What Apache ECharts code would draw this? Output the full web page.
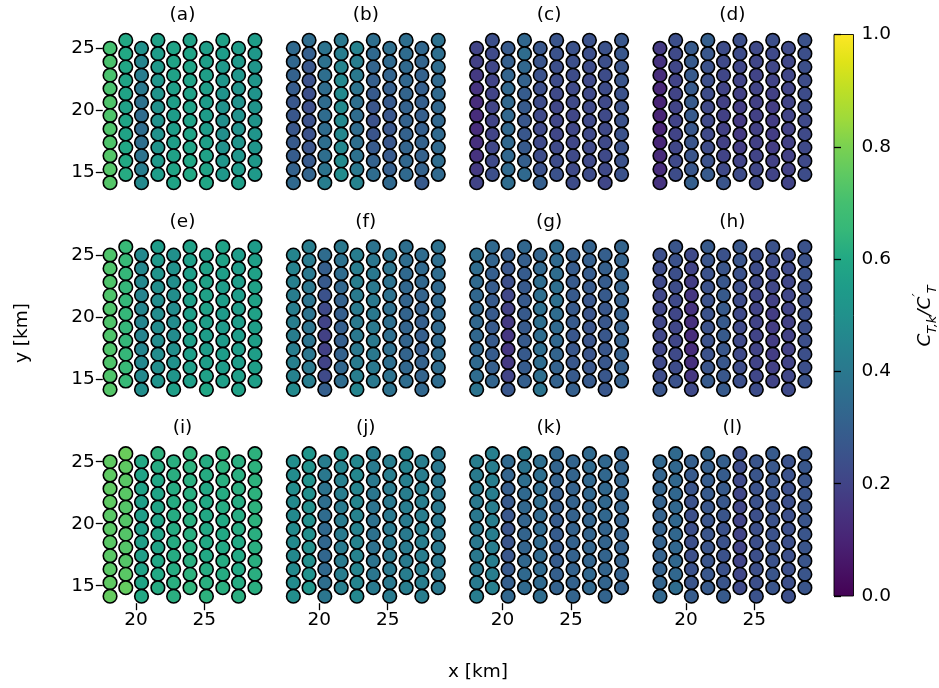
<!DOCTYPE html>
<html>
<head>
<meta charset="utf-8">
<script src="https://cdn.jsdelivr.net/npm/echarts@6/dist/echarts.min.js"></script>
<style>
html,body{margin:0;padding:0;background:#fff;}
#chart{width:939px;height:688px;}
</style>
</head>
<body>
<div id="chart"></div>
<script>
// ---- data ----
// turbine column x-positions [km]
const colX = [18.1, 19.25, 20.4, 21.6, 22.75, 23.95, 25.15, 26.35, 27.5, 28.7];
// row y-positions [km], top -> bottom, for even / odd columns
const evenColY = [25.0, 23.92, 22.83, 21.75, 20.66, 19.58, 18.50, 17.41, 16.33, 15.24, 14.16];
const oddColY = [25.65, 24.57, 23.49, 22.41, 21.33, 20.25, 19.16, 18.08, 17.0, 15.92, 14.84];
const panelLabels = ['(a)','(b)','(c)','(d)','(e)','(f)','(g)','(h)','(i)','(j)','(k)','(l)'];
const xTicks = [20, 25];
const yTicks = [15, 20, 25];
const cbarTicks = [0, 0.2, 0.4, 0.6, 0.8, 1.0];

// C_T,k / C'_T per panel: one inner list per column (left -> right), values top -> bottom
const panelA = [
 [0.70,0.71,0.71,0.71,0.72,0.72,0.72,0.72,0.73,0.73,0.73],
 [0.60,0.60,0.59,0.58,0.58,0.57,0.58,0.58,0.59,0.60,0.61],
 [0.50,0.45,0.42,0.40,0.37,0.35,0.35,0.36,0.38,0.42,0.47],
 [0.57,0.55,0.53,0.52,0.51,0.50,0.50,0.50,0.51,0.53,0.55],
 [0.58,0.58,0.57,0.56,0.56,0.55,0.55,0.56,0.57,0.58,0.58],
 [0.57,0.58,0.58,0.57,0.57,0.57,0.57,0.58,0.58,0.59,0.60],
 [0.56,0.56,0.56,0.56,0.55,0.55,0.55,0.56,0.57,0.58,0.59],
 [0.57,0.55,0.53,0.52,0.51,0.50,0.49,0.49,0.50,0.52,0.53],
 [0.55,0.53,0.52,0.51,0.50,0.50,0.50,0.51,0.52,0.54,0.56],
 [0.55,0.53,0.52,0.52,0.51,0.51,0.51,0.52,0.52,0.53,0.54]
];
const panelB = [
 [0.34,0.33,0.31,0.29,0.27,0.27,0.27,0.28,0.29,0.31,0.34],
 [0.35,0.30,0.27,0.25,0.24,0.24,0.25,0.25,0.26,0.28,0.32],
 [0.38,0.37,0.36,0.35,0.35,0.35,0.35,0.36,0.36,0.38,0.42],
 [0.40,0.42,0.45,0.46,0.47,0.47,0.46,0.46,0.46,0.47,0.48],
 [0.44,0.42,0.40,0.38,0.36,0.35,0.35,0.36,0.37,0.40,0.44],
 [0.36,0.34,0.32,0.30,0.28,0.26,0.25,0.26,0.28,0.31,0.35],
 [0.36,0.34,0.32,0.30,0.28,0.27,0.27,0.27,0.28,0.30,0.34],
 [0.36,0.35,0.34,0.33,0.32,0.31,0.31,0.31,0.32,0.33,0.34],
 [0.33,0.32,0.31,0.30,0.30,0.30,0.30,0.31,0.31,0.31,0.28],
 [0.37,0.36,0.35,0.34,0.34,0.33,0.33,0.34,0.34,0.35,0.34]
];
const panelC = [
 [0.20,0.19,0.17,0.15,0.13,0.13,0.13,0.14,0.15,0.17,0.20],
 [0.24,0.22,0.21,0.20,0.20,0.20,0.20,0.20,0.21,0.22,0.24],
 [0.28,0.30,0.32,0.33,0.33,0.33,0.33,0.33,0.33,0.34,0.35],
 [0.33,0.35,0.33,0.31,0.29,0.28,0.27,0.27,0.28,0.30,0.34],
 [0.27,0.26,0.25,0.24,0.23,0.22,0.22,0.22,0.23,0.25,0.30],
 [0.26,0.25,0.24,0.23,0.22,0.21,0.21,0.21,0.22,0.23,0.25],
 [0.25,0.24,0.23,0.22,0.22,0.21,0.21,0.21,0.22,0.22,0.23],
 [0.25,0.24,0.23,0.22,0.22,0.22,0.22,0.22,0.22,0.22,0.23],
 [0.25,0.24,0.23,0.23,0.22,0.22,0.22,0.22,0.22,0.22,0.21],
 [0.27,0.27,0.26,0.26,0.25,0.25,0.25,0.25,0.25,0.25,0.25]
];
const panelD = [
 [0.17,0.15,0.13,0.11,0.10,0.10,0.10,0.11,0.12,0.13,0.15],
 [0.24,0.22,0.21,0.20,0.20,0.20,0.20,0.20,0.21,0.22,0.23],
 [0.28,0.28,0.28,0.28,0.28,0.28,0.27,0.26,0.26,0.27,0.30],
 [0.30,0.27,0.25,0.24,0.23,0.22,0.22,0.22,0.23,0.25,0.28],
 [0.23,0.22,0.21,0.20,0.19,0.19,0.19,0.19,0.20,0.22,0.26],
 [0.24,0.23,0.21,0.20,0.19,0.18,0.17,0.17,0.18,0.20,0.23],
 [0.22,0.21,0.20,0.20,0.19,0.19,0.19,0.19,0.20,0.21,0.22],
 [0.24,0.22,0.21,0.20,0.19,0.18,0.18,0.18,0.18,0.19,0.20],
 [0.22,0.21,0.21,0.20,0.20,0.20,0.19,0.19,0.19,0.19,0.20],
 [0.25,0.24,0.24,0.23,0.23,0.23,0.22,0.22,0.22,0.22,0.23]
];
const panelE = [
 [0.72,0.72,0.72,0.72,0.72,0.72,0.72,0.72,0.72,0.72,0.73],
 [0.66,0.66,0.65,0.65,0.65,0.65,0.65,0.65,0.65,0.66,0.66],
 [0.47,0.46,0.46,0.45,0.45,0.45,0.45,0.45,0.46,0.47,0.49],
 [0.55,0.53,0.51,0.49,0.48,0.48,0.48,0.48,0.48,0.49,0.51],
 [0.50,0.50,0.49,0.49,0.48,0.48,0.48,0.49,0.50,0.52,0.56],
 [0.57,0.56,0.56,0.56,0.56,0.56,0.56,0.56,0.56,0.56,0.56],
 [0.56,0.57,0.57,0.57,0.57,0.56,0.55,0.55,0.56,0.57,0.59],
 [0.58,0.57,0.56,0.55,0.55,0.54,0.54,0.54,0.55,0.55,0.56],
 [0.55,0.55,0.55,0.55,0.55,0.55,0.55,0.55,0.55,0.56,0.57],
 [0.55,0.56,0.57,0.57,0.57,0.57,0.56,0.56,0.56,0.56,0.56]
];
const panelF = [
 [0.45,0.44,0.43,0.42,0.42,0.42,0.42,0.42,0.43,0.44,0.47],
 [0.42,0.41,0.40,0.39,0.38,0.38,0.38,0.38,0.39,0.40,0.42],
 [0.35,0.30,0.28,0.25,0.22,0.20,0.19,0.19,0.20,0.22,0.30],
 [0.40,0.37,0.35,0.33,0.31,0.30,0.30,0.30,0.31,0.33,0.35],
 [0.42,0.42,0.42,0.41,0.41,0.40,0.40,0.40,0.41,0.42,0.45],
 [0.38,0.39,0.40,0.40,0.40,0.40,0.40,0.40,0.40,0.40,0.40],
 [0.38,0.38,0.37,0.37,0.36,0.36,0.36,0.36,0.36,0.37,0.37],
 [0.36,0.35,0.34,0.33,0.32,0.32,0.32,0.32,0.32,0.33,0.35],
 [0.35,0.34,0.33,0.32,0.31,0.30,0.30,0.30,0.31,0.32,0.33],
 [0.37,0.36,0.35,0.34,0.34,0.34,0.34,0.34,0.35,0.35,0.35]
];
const panelG = [
 [0.36,0.35,0.34,0.33,0.33,0.33,0.33,0.33,0.34,0.35,0.38],
 [0.34,0.32,0.30,0.29,0.28,0.28,0.28,0.28,0.29,0.30,0.32],
 [0.30,0.27,0.24,0.21,0.19,0.17,0.16,0.16,0.17,0.20,0.27],
 [0.33,0.30,0.29,0.28,0.28,0.28,0.28,0.28,0.28,0.29,0.30],
 [0.32,0.33,0.35,0.36,0.36,0.36,0.35,0.35,0.35,0.36,0.38],
 [0.35,0.34,0.35,0.36,0.36,0.35,0.34,0.33,0.32,0.31,0.31],
 [0.30,0.29,0.28,0.28,0.28,0.28,0.27,0.27,0.27,0.28,0.30],
 [0.31,0.30,0.29,0.28,0.27,0.26,0.26,0.26,0.26,0.27,0.28],
 [0.30,0.30,0.29,0.28,0.27,0.27,0.27,0.27,0.27,0.27,0.27],
 [0.32,0.31,0.31,0.31,0.30,0.30,0.30,0.30,0.30,0.30,0.30]
];
const panelH = [
 [0.24,0.23,0.22,0.21,0.21,0.21,0.21,0.21,0.22,0.23,0.26],
 [0.26,0.25,0.24,0.23,0.22,0.21,0.21,0.21,0.22,0.23,0.25],
 [0.22,0.20,0.18,0.16,0.15,0.14,0.13,0.13,0.14,0.16,0.22],
 [0.28,0.26,0.25,0.25,0.25,0.25,0.25,0.25,0.25,0.26,0.28],
 [0.25,0.26,0.27,0.28,0.28,0.28,0.28,0.27,0.27,0.27,0.28],
 [0.27,0.26,0.25,0.24,0.23,0.22,0.22,0.22,0.22,0.23,0.24],
 [0.24,0.23,0.22,0.21,0.20,0.20,0.20,0.20,0.20,0.21,0.23],
 [0.25,0.23,0.22,0.21,0.19,0.18,0.18,0.18,0.18,0.19,0.20],
 [0.23,0.22,0.21,0.21,0.20,0.19,0.19,0.19,0.20,0.21,0.22],
 [0.25,0.25,0.25,0.24,0.24,0.24,0.24,0.24,0.24,0.24,0.25]
];
const panelI = [
 [0.75,0.75,0.75,0.75,0.74,0.74,0.74,0.74,0.74,0.75,0.76],
 [0.77,0.75,0.74,0.74,0.73,0.73,0.73,0.73,0.73,0.74,0.76],
 [0.60,0.58,0.57,0.56,0.56,0.56,0.56,0.56,0.57,0.58,0.60],
 [0.63,0.61,0.59,0.58,0.58,0.58,0.58,0.58,0.59,0.60,0.61],
 [0.62,0.62,0.61,0.61,0.61,0.61,0.61,0.61,0.61,0.62,0.62],
 [0.64,0.63,0.62,0.62,0.62,0.62,0.62,0.62,0.62,0.63,0.64],
 [0.61,0.61,0.60,0.60,0.60,0.60,0.60,0.60,0.61,0.62,0.63],
 [0.64,0.63,0.62,0.61,0.61,0.60,0.60,0.60,0.61,0.61,0.62],
 [0.62,0.62,0.62,0.61,0.61,0.61,0.60,0.60,0.60,0.61,0.62],
 [0.63,0.63,0.63,0.63,0.63,0.63,0.62,0.62,0.62,0.62,0.62]
];
const panelJ = [
 [0.49,0.48,0.48,0.47,0.47,0.47,0.47,0.47,0.47,0.48,0.49],
 [0.52,0.50,0.50,0.49,0.49,0.49,0.49,0.49,0.49,0.50,0.52],
 [0.42,0.40,0.38,0.36,0.35,0.34,0.33,0.33,0.34,0.36,0.39],
 [0.48,0.45,0.43,0.42,0.41,0.41,0.41,0.41,0.41,0.42,0.43],
 [0.46,0.46,0.45,0.45,0.44,0.44,0.44,0.44,0.45,0.45,0.46],
 [0.42,0.41,0.40,0.39,0.38,0.37,0.37,0.37,0.38,0.39,0.41],
 [0.42,0.42,0.41,0.40,0.40,0.40,0.40,0.40,0.40,0.40,0.41],
 [0.45,0.44,0.43,0.42,0.42,0.41,0.41,0.41,0.41,0.42,0.42],
 [0.42,0.42,0.42,0.42,0.42,0.42,0.42,0.42,0.42,0.42,0.42],
 [0.40,0.40,0.40,0.40,0.40,0.40,0.40,0.40,0.40,0.40,0.40]
];
const panelK = [
 [0.42,0.41,0.41,0.40,0.40,0.40,0.40,0.40,0.40,0.41,0.42],
 [0.43,0.42,0.42,0.42,0.42,0.42,0.42,0.42,0.42,0.42,0.43],
 [0.34,0.32,0.30,0.28,0.27,0.26,0.26,0.27,0.28,0.30,0.33],
 [0.40,0.38,0.36,0.34,0.33,0.32,0.32,0.32,0.33,0.34,0.34],
 [0.36,0.36,0.35,0.35,0.34,0.34,0.34,0.34,0.34,0.34,0.35],
 [0.33,0.32,0.31,0.30,0.30,0.29,0.29,0.29,0.29,0.30,0.31],
 [0.32,0.32,0.31,0.31,0.31,0.31,0.31,0.31,0.31,0.31,0.32],
 [0.34,0.34,0.33,0.33,0.32,0.32,0.32,0.32,0.32,0.33,0.33],
 [0.33,0.33,0.33,0.33,0.33,0.32,0.32,0.32,0.32,0.32,0.32],
 [0.32,0.32,0.32,0.32,0.32,0.31,0.31,0.31,0.31,0.31,0.31]
];
const panelL = [
 [0.33,0.32,0.32,0.31,0.31,0.31,0.31,0.31,0.31,0.32,0.33],
 [0.34,0.33,0.33,0.33,0.33,0.33,0.33,0.33,0.33,0.33,0.35],
 [0.30,0.28,0.26,0.25,0.24,0.24,0.24,0.24,0.25,0.26,0.29],
 [0.32,0.30,0.29,0.28,0.27,0.26,0.26,0.26,0.26,0.27,0.28],
 [0.30,0.29,0.28,0.27,0.26,0.25,0.25,0.25,0.25,0.26,0.28],
 [0.24,0.23,0.22,0.21,0.21,0.20,0.20,0.20,0.20,0.21,0.22],
 [0.26,0.26,0.25,0.25,0.24,0.24,0.24,0.24,0.24,0.24,0.25],
 [0.28,0.27,0.26,0.26,0.25,0.25,0.25,0.25,0.25,0.26,0.26],
 [0.25,0.25,0.24,0.24,0.24,0.24,0.24,0.24,0.24,0.24,0.24],
 [0.27,0.27,0.26,0.26,0.26,0.26,0.26,0.26,0.26,0.26,0.26]
];
const panels = [panelA, panelB, panelC, panelD, panelE, panelF, panelG, panelH, panelI, panelJ, panelK, panelL];

// ---- styling / layout ----
const viridis = ['#440154','#471365','#482475','#46337f','#414487','#3b528b','#355f8d','#2f6c8e','#2a788e','#25848e','#21918c','#1e9c89','#22a884','#35b779','#44bf70','#5ec962','#7ad151','#9fda3a','#bddf26','#dfe318','#fde725'];
const FONT = 'DejaVu Sans';
const FS = 18.5;
const X_MIN = 17.57, X_MAX = 29.23, Y_MIN = 13.59, Y_MAX = 26.22;
const colLefts = [102.8, 286.1, 469.4, 652.7];
const rowTops = [33.2, 239.9, 446.6];
const PW = 159.4, PH = 156.6;

const chart = echarts.init(document.getElementById('chart'), null, {renderer: 'canvas'});

const grids = [], xAxes = [], yAxes = [], series = [], graphics = [];
panels.forEach((vals, p) => {
  const r = Math.floor(p / 4), c = p % 4;
  grids.push({left: colLefts[c], top: rowTops[r], width: PW, height: PH, containLabel: false});
  const showX = r === 2, showY = c === 0;
  xAxes.push({
    type: 'value', gridIndex: p, min: X_MIN, max: X_MAX,
    axisLine: {show: false}, splitLine: {show: false},
    axisTick: {show: showX, customValues: xTicks, length: 7, lineStyle: {color: '#000', width: 1.3}},
    axisLabel: {show: showX, customValues: xTicks, margin: 7, color: '#000', fontSize: FS, fontFamily: FONT}
  });
  yAxes.push({
    type: 'value', gridIndex: p, min: Y_MIN, max: Y_MAX,
    axisLine: {show: false}, splitLine: {show: false},
    axisTick: {show: showY, customValues: yTicks, length: 7, lineStyle: {color: '#000', width: 1.3}},
    axisLabel: {show: showY, customValues: yTicks, margin: 8, color: '#000', fontSize: FS, fontFamily: FONT}
  });
  const data = [];
  vals.forEach((colVals, i) => {
    const ys = (i % 2 === 0) ? evenColY : oddColY;
    colVals.forEach((v, j) => data.push([colX[i], ys[j], v]));
  });
  series.push({
    type: 'scatter', xAxisIndex: p, yAxisIndex: p, data: data,
    symbol: 'circle', symbolSize: 13.6,
    itemStyle: {borderColor: '#000', borderWidth: 1.6, opacity: 1},
    emphasis: {disabled: true}, silent: true
  });
  graphics.push({
    type: 'text', x: colLefts[c] + PW / 2, y: rowTops[r] - 18,
    style: {text: panelLabels[p], fill: '#000', fontSize: FS, fontFamily: FONT,
            textAlign: 'center', textVerticalAlign: 'middle', align: 'center', verticalAlign: 'middle'}
  });
});

// colorbar grid
const CB = {left: 834, top: 34.5, width: 19.5, height: 561.5};
const cbIdx = panels.length;
grids.push({
  left: CB.left, top: CB.top, width: CB.width, height: CB.height, show: true,
  backgroundColor: new echarts.graphic.LinearGradient(0, 0, 0, 1,
    viridis.slice().reverse().map((col, k, arr) => ({offset: k / (arr.length - 1), color: col}))),
  borderColor: '#000', borderWidth: 0.9
});
xAxes.push({type: 'value', gridIndex: cbIdx, show: false, min: 0, max: 1});
yAxes.push({
  type: 'value', gridIndex: cbIdx, min: 0, max: 1, interval: 0.2, position: 'right',
  axisLine: {show: false}, splitLine: {show: false},
  axisTick: {show: true, length: 7, lineStyle: {color: '#000', width: 1.3}},
  axisLabel: {show: true, margin: 8, color: '#000', fontSize: FS, fontFamily: FONT,
              formatter: v => (cbarTicks.includes(+v.toFixed(1)) ? v.toFixed(1) : '')}
});

// axis titles
graphics.push({
  type: 'text', x: 478, y: 672,
  style: {text: 'x [km]', fill: '#000', fontSize: FS, fontFamily: FONT,
          textAlign: 'center', textVerticalAlign: 'middle', align: 'center', verticalAlign: 'middle'}
});
graphics.push({
  type: 'text', x: 22, y: 333, rotation: Math.PI / 2,
  style: {text: 'y [km]', fill: '#000', fontSize: FS, fontFamily: FONT,
          textAlign: 'center', textVerticalAlign: 'middle', align: 'center', verticalAlign: 'middle'}
});
graphics.push({
  type: 'text', x: 925, y: 316, rotation: Math.PI / 2,
  style: {
    text: '{m|C}{sb|T,k}{n|/}{m|C}{sp|\u2032}{sb|T}',
    fill: '#000', fontFamily: FONT,
    textAlign: 'center', textVerticalAlign: 'middle', align: 'center', verticalAlign: 'middle',
    rich: {
      m: {fontSize: FS, fontStyle: 'italic', fontFamily: FONT, lineHeight: 28, verticalAlign: 'middle', fill: '#000', color: '#000'},
      n: {fontSize: FS, fontStyle: 'italic', fontFamily: FONT, lineHeight: 28, verticalAlign: 'middle', fill: '#000', color: '#000'},
      sb: {fontSize: 13, fontStyle: 'italic', fontFamily: FONT, lineHeight: 14, verticalAlign: 'bottom', fill: '#000', color: '#000'},
      sp: {fontSize: 14, fontStyle: 'italic', fontFamily: FONT, lineHeight: 15, verticalAlign: 'top', fill: '#000', color: '#000'}
    }
  }
});

chart.setOption({
  animation: false,
  backgroundColor: '#fff',
  grid: grids,
  xAxis: xAxes,
  yAxis: yAxes,
  visualMap: {
    type: 'continuous', show: false, min: 0, max: 1, dimension: 2,
    seriesIndex: series.map((s, k) => k),
    inRange: {color: viridis}
  },
  series: series,
  graphic: {elements: graphics}
});
</script>
</body>
</html>
